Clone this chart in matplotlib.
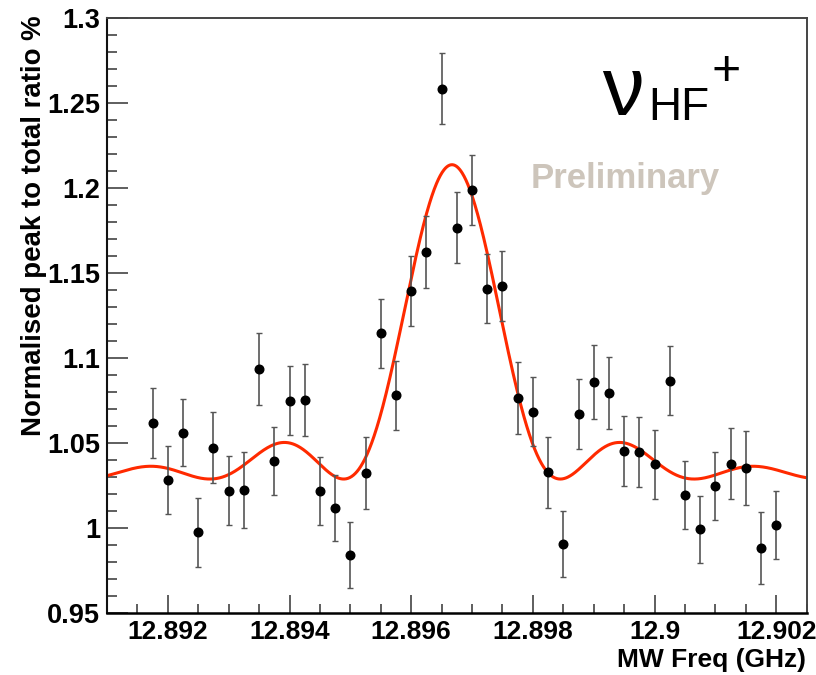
import numpy as np
import matplotlib
matplotlib.use("Agg")
import matplotlib.pyplot as plt
from matplotlib.ticker import MultipleLocator, FuncFormatter

plt.rcParams['font.family'] = ['Liberation Sans', 'DejaVu Sans']

# ---- data ----
freq_ghz = [12.89175, 12.89200, 12.89225, 12.89250, 12.89275, 12.89300, 12.89325,
            12.89350, 12.89375, 12.89400, 12.89425, 12.89450, 12.89475, 12.89500,
            12.89525, 12.89550, 12.89575, 12.89600, 12.89625, 12.89650, 12.89675,
            12.89700, 12.89725, 12.89750, 12.89775, 12.89800, 12.89825, 12.89850,
            12.89875, 12.89900, 12.89925, 12.89950, 12.89975, 12.90000, 12.90025,
            12.90050, 12.90075, 12.90100, 12.90125, 12.90150, 12.90175, 12.90200]
ratio = [1.0616, 1.0282, 1.0560, 0.9975, 1.0472, 1.0220, 1.0224,
         1.0935, 1.0392, 1.0749, 1.0755, 1.0218, 1.0118, 0.9841,
         1.0322, 1.1145, 1.0780, 1.1392, 1.1624, 1.2584, 1.1767,
         1.1986, 1.1408, 1.1424, 1.0765, 1.0684, 1.0328, 0.9906,
         1.0670, 1.0860, 1.0794, 1.0455, 1.0449, 1.0375, 1.0867,
         1.0194, 0.9994, 1.0249, 1.0378, 1.0355, 0.9880, 1.0018]
ratio_err = [0.0205, 0.0202, 0.0198, 0.0204, 0.0208, 0.0202, 0.0225,
             0.0213, 0.0200, 0.0202, 0.0212, 0.0198, 0.0196, 0.0195,
             0.0213, 0.0204, 0.0201, 0.0206, 0.0214, 0.0209, 0.0209,
             0.0206, 0.0204, 0.0208, 0.0212, 0.0204, 0.0208, 0.0196,
             0.0206, 0.0217, 0.0210, 0.0206, 0.0205, 0.0204, 0.0204,
             0.0202, 0.0197, 0.0199, 0.0210, 0.0217, 0.0212, 0.0200]

# fit parameters (Rabi pi-pulse lineshape)
fit_center = 12.89667
fit_scale = 3057.0      # detuning -> dimensionless (per GHz)
fit_base = 1.0288
fit_amp = 0.1849

x_lim = (12.891, 12.9025)
y_lim = (0.95, 1.3)

def rabi(x):
    u = fit_scale * (np.asarray(x) - fit_center)
    w2 = np.pi**2 + u**2
    return fit_base + fit_amp * (np.pi**2 / w2) * np.sin(np.sqrt(w2) / 2) ** 2

W, H = 816, 675
fig = plt.figure(figsize=(W / 100, H / 100), dpi=100)
ax = fig.add_axes([107 / W, 1 - 613 / H, (806.7 - 107) / W, (613 - 18) / H])

xf = np.linspace(x_lim[0], x_lim[1], 1500)
ax.plot(xf, rabi(xf), color='#ff2a00', lw=2.2, zorder=2)

ax.errorbar(freq_ghz, ratio, yerr=ratio_err, fmt='o', color='black', ms=6.2,
            ecolor='#555555', elinewidth=1.2, capsize=2.0, capthick=1.0, zorder=3)

ax.set_xlim(*x_lim)
ax.set_ylim(*y_lim)

ax.xaxis.set_major_locator(MultipleLocator(0.002))
ax.xaxis.set_minor_locator(MultipleLocator(0.0005))
ax.yaxis.set_major_locator(MultipleLocator(0.05))
ax.yaxis.set_minor_locator(MultipleLocator(0.01))
fmt = FuncFormatter(lambda v, p: '%g' % round(v, 6))
ax.xaxis.set_major_formatter(fmt)
ax.yaxis.set_major_formatter(fmt)

ax.tick_params(axis='both', which='both', direction='in', top=False, right=False,
               color='#333333', width=1.1)
ax.tick_params(axis='x', which='major', length=12.7, pad=5, labelsize=19)
ax.tick_params(axis='x', which='minor', length=6.7)
ax.tick_params(axis='y', which='major', length=15, pad=5, labelsize=19.5)
ax.tick_params(axis='y', which='minor', length=7.5)
for lab in ax.get_xticklabels() + ax.get_yticklabels():
    lab.set_fontweight('bold')

ax.spines['left'].set_linewidth(1.5)
ax.spines['bottom'].set_linewidth(1.8)
ax.spines['left'].set_color('#111111')
ax.spines['bottom'].set_color('#000000')
for s in ('top', 'right'):
    ax.spines[s].set_linewidth(1.4)
    ax.spines[s].set_color('#444444')

fig.text(806 / W, 1 - 667 / H, 'MW Freq (GHz)', ha='right', va='baseline',
         fontsize=19, fontweight='bold')
fig.text(34 / W, 1 - 15 / H, 'Normalised peak to total ratio %', rotation=90,
         ha='center', va='top', fontsize=19.9, fontweight='bold')

# nu_HF^+ label
fig.text(602 / W, 1 - 115 / H, '\u03bd', ha='left', va='baseline', fontsize=60)
fig.text(648 / W, 1 - 120 / H, 'HF', ha='left', va='baseline', fontsize=33)
fig.text(712 / W, 1 - 85 / H, '+', ha='left', va='baseline', fontsize=36)

fig.text(531 / W, 1 - 188 / H, 'Preliminary', ha='left', va='baseline',
         fontsize=25, fontweight='bold', color='#cdc5bb')

fig.savefig('out.png', dpi=100)
